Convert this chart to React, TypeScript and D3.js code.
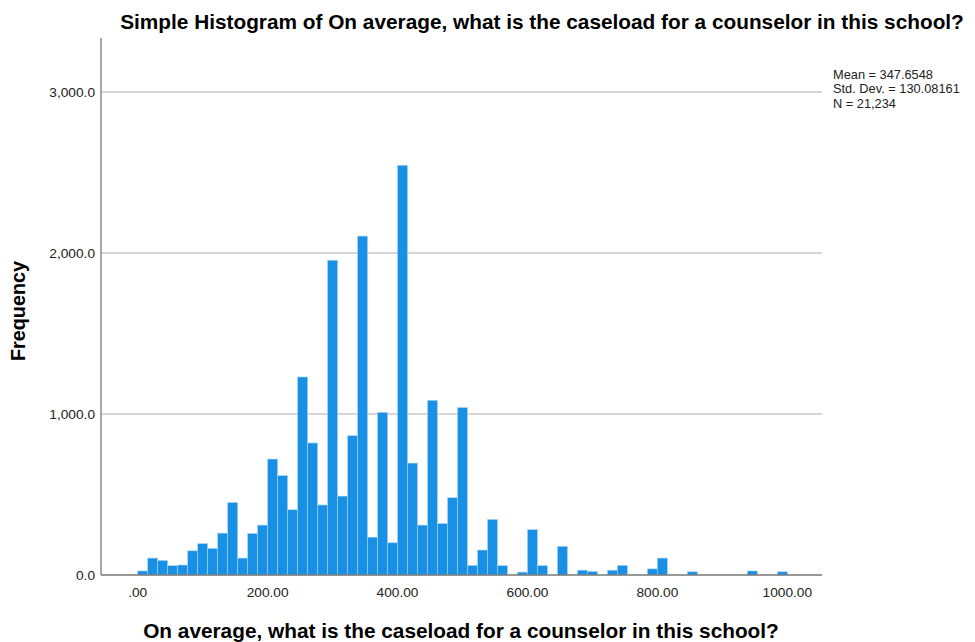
import React from "react";
import * as d3 from "d3";

const title = "Simple Histogram of On average, what is the caseload for a counselor in this school?";
const xTitle = "On average, what is the caseload for a counselor in this school?";
const yTitle = "Frequency";
const binStart = 0;
const binEnd = 1000;
const counts = [
  25, 105, 90, 58, 62, 150, 195, 165, 260, 450,
  105, 258, 310, 720, 617, 405, 1230, 820, 435, 1955,
  490, 865, 2105, 235, 1010, 200, 2545, 695, 310, 1085,
  320, 480, 1040, 60, 155, 345, 58, 0, 18, 282,
  58, 0, 178, 0, 30, 22, 0, 30, 60, 0,
  0, 38, 105, 0, 0, 20, 0, 0, 0, 0,
  0, 25, 0, 0, 20,
];
const xTicks = [0, 200, 400, 600, 800, 1000];
const yTicks = [0, 1000, 2000, 3000];
const statsLines = ["Mean = 347.6548", "Std. Dev. = 130.08161", "N = 21,234"];

export default function App() {
  const W = 975, H = 642;
  const plotLeft = 101, plotRight = 822;
  const x = d3.scaleLinear().domain([binStart, binEnd]).range([137.7, 787.3]);
  const y = d3.scaleLinear().domain([0, 3000]).range([575, 92]);
  const bw = (binEnd - binStart) / counts.length;
  const yFmt = d3.format(",.1f");
  const xFmt = (v: number) => (v === 0 ? ".00" : d3.format(".2f")(v));
  const font = "Arial, 'Liberation Sans', sans-serif";
  return (
    <svg width={W} height={H} style={{ position: "absolute", left: 0, top: 0, background: "#fff" }} fontFamily={font}>
      <rect x={0} y={0} width={W} height={H} fill="#fff" />
      <text x={542} y={29} textAnchor="middle" fontSize={20.8} fontWeight="bold" fill="#000">{title}</text>
      {yTicks.filter((t) => t > 0).map((t) => (
        <line key={t} x1={plotLeft} x2={plotRight} y1={y(t)} y2={y(t)} stroke="#c8c8c8" strokeWidth={1.5} />
      ))}
      {counts.map((c, i) =>
        c > 0 ? (
          <rect
            key={i}
            x={x(binStart + i * bw)}
            y={y(c)}
            width={x(binStart + (i + 1) * bw) - x(binStart + i * bw)}
            height={y(0) - y(c)}
            fill="#1790e6"
            stroke="#a8d4f5"
            strokeWidth={0.6}
          />
        ) : null
      )}
      <line x1={plotLeft} x2={plotLeft} y1={y(0)} y2={y(3336)} stroke="#8a8a8a" strokeWidth={1.5} />
      <line x1={plotLeft} x2={plotRight} y1={y(0)} y2={y(0)} stroke="#777" strokeWidth={1.5} />
      {yTicks.map((t) => (
        <text key={t} x={95} y={y(t) + 5} textAnchor="end" fontSize={13.7} fill="#222">{yFmt(t)}</text>
      ))}
      {xTicks.map((t) => (
        <text key={t} x={x(t)} y={597} textAnchor="middle" fontSize={13.7} fill="#222">{xFmt(t)}</text>
      ))}
      <text x={461} y={638} textAnchor="middle" fontSize={20.8} fontWeight="bold" fill="#000">{xTitle}</text>
      <text transform={`translate(25,311) rotate(-90)`} textAnchor="middle" fontSize={19.8} fontWeight="bold" fill="#000">{yTitle}</text>
      {statsLines.map((s, i) => (
        <text key={s} x={833} y={78.5 + i * 14.5} fontSize={12.8} fill="#222">{s}</text>
      ))}
    </svg>
  );
}
